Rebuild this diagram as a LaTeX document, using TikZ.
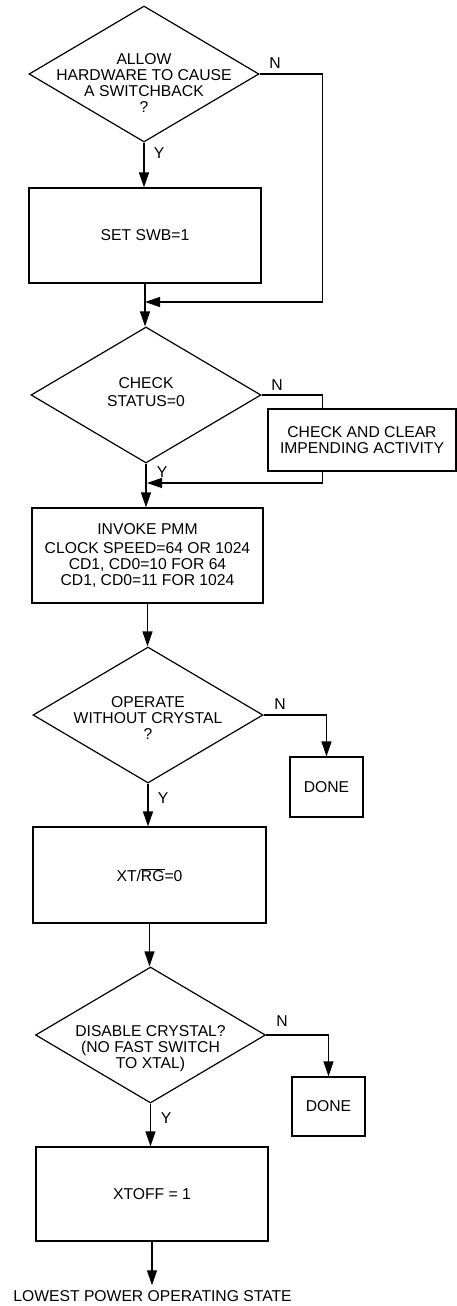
\documentclass[tikz,border=0pt]{standalone}
\usepackage{fontspec}
\setmainfont{Liberation Sans}
\usetikzlibrary{shapes.geometric,arrows.meta}

\tikzset{
    box/.style={draw, rectangle, line width=1.2pt, inner sep=0pt, align=center},
    test/.style={draw, diamond, line width=1.2pt, inner sep=0pt, minimum width=230pt, minimum height=136pt},
    arr/.style={line width=1.2pt, -{Triangle[length=15pt,width=10pt]}},
    wire/.style={line width=1.2pt},
}
\newcommand\mytest[4]{
    \node[test] (#1) at (#2) {};
    \node[align=center] at ([yshift=#3]#1) {#4};
}

\begin{document}
\begin{tikzpicture}[x=1pt, y=-1pt, font=\fontsize{15.7pt}{16pt}\selectfont]
    \useasboundingbox (0,0) rectangle (457,1306);

    % decisions
    \mytest{allow}{144,74}{-9pt}{ALLOW\\HARDWARE TO CAUSE\\A SWITCHBACK\\?}
    \mytest{status}{146,395}{3pt}{CHECK\\[2pt]STATUS=0}
    \mytest{crystal}{148,715}{-3pt}{OPERATE\\WITHOUT CRYSTAL\\?}
    \mytest{disable}{150.5,1035}{-14pt}{DISABLE CRYSTAL?\\(NO FAST SWITCH\\TO XTAL)}

    % boxes
    \node[box, minimum width=232pt, minimum height=95pt] (swb) at (145,235.5) {SET SWB=1};
    \node[box, minimum width=188pt, minimum height=62pt] (clear) at (362,440) {CHECK AND CLEAR\\IMPENDING ACTIVITY};
    \node[box, minimum width=231pt, minimum height=95pt] (pmm) at (147.5,555.5)
        {INVOKE PMM\\[3.5pt]CLOCK SPEED=64 OR 1024\\CD1, CD0=10 FOR 64\\CD1, CD0=11 FOR 1024};
    \node[box, minimum width=73pt, minimum height=60pt] (done1) at (326.5,787) {DONE};
    \node[box, minimum width=233pt, minimum height=96pt] (xtrg) at (149.5,875) {XT/$\overline{\hbox{RG}}$=0};
    \node[box, minimum width=73pt, minimum height=59pt] (done2) at (328.5,1106.5) {DONE};
    \node[box, minimum width=232pt, minimum height=94pt] (xtoff) at (152,1194) {XTOFF = 1};
    \node[inner xsep=0pt, inner ysep=5pt] (lowest) at (152.5,1296) {LOWEST POWER OPERATING STATE};

    % merge points on the main line
    \coordinate (j1) at (145,302);
    \coordinate (j2) at (147,483);

    % main line, Y branches
    \draw[arr] (allow.south) -- (allow.south |- swb.north);
    \draw[arr] (swb.south) -- (swb.south |- status.north);
    \draw[arr] (status.south) -- (status.south |- pmm.north);
    \draw[arr] (pmm.south) -- (pmm.south |- crystal.north);
    \draw[arr] (crystal.south) -- (crystal.south |- xtrg.north);
    \draw[arr] (xtrg.south) -- (xtrg.south |- disable.north);
    \draw[arr] (disable.south) -- (disable.south |- xtoff.north);
    \draw[arr] (xtoff.south) -- (xtoff.south |- lowest.north);

    % N branches
    \draw[arr] (allow.east) -- ++(63,0) |- (j1);
    \draw[wire] (status.east) -| ([xshift=55pt]clear.north west);
    \draw[arr] ([xshift=55pt]clear.south west) |- (j2);
    \draw[arr] (crystal.east) -| (done1.north);
    \draw[arr] (disable.east) -| (done2.north);

    % Y and N labels
    \node at (159,153) {Y};
    \node at (162,472) {Y};
    \node at (163,798) {Y};
    \node at (166,1118) {Y};
    \node at (275,63) {N};
    \node at (277,385) {N};
    \node at (280,704) {N};
    \node at (282,1021) {N};
\end{tikzpicture}
\end{document}
